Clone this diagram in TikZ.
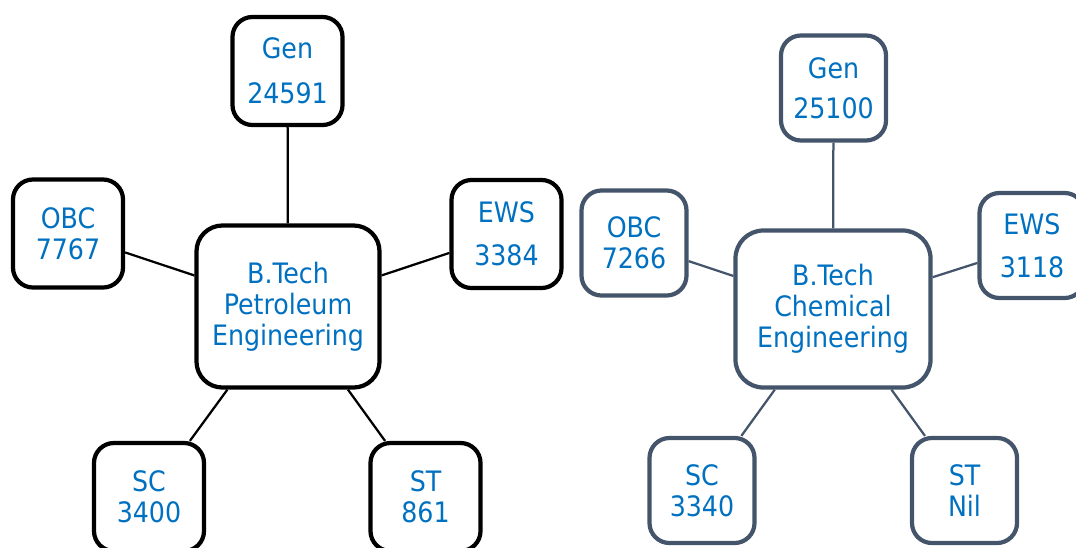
\documentclass[tikz,border=0pt]{standalone}
\usepackage{fontspec}
\setmainfont{DejaVu Sans Condensed}
\definecolor{quotablue}{HTML}{0070C0}
\definecolor{slate}{HTML}{44546A}

\begin{document}
\begin{tikzpicture}[x=0.025cm, y=-0.025cm,
		quota/.style={draw, line width=3pt, rounded corners=0.5cm, align=center, text=quotablue, inner sep=0pt, minimum width=2.75cm, minimum height=2.7cm, font=\fontsize{20}{22}\selectfont},
		branch/.style={quota, minimum width=4.575cm, minimum height=4.05cm, rounded corners=0.65cm},
		cquota/.style={quota, draw=slate, minimum width=2.625cm, minimum height=2.625cm},
		cbranch/.style={cquota, minimum width=4.875cm, minimum height=3.925cm, rounded corners=0.7cm},
		link/.style={line width=1.6pt},
		clink/.style={link, draw=slate}]
		\useasboundingbox (0, 0) rectangle (1076, 547);
		% petroleum
		\node[branch] (pcen) at (288, 306.5) {B.Tech\\Petroleum\\Engineering};
		\node[quota] (pgen) at (287.5, 71) {Gen\\[10pt]24591};
		\node[quota] (pobc) at (68, 233.5) {OBC\\7767};
		\node[quota] (pews) at (506.5, 234) {EWS\\[8.5pt]3384};
		\node[quota] (psc) at (149, 497) {SC\\3400};
		\node[quota] (pst) at (425.5, 497) {ST\\861};
		\draw[link] (pcen) -- (pgen); \draw[link] (pcen) -- (pobc); \draw[link] (pcen) -- (pews);
		\draw[link] (pcen) -- (psc); \draw[link] (pcen) -- (pst);
		% chemical
		\node[cbranch] (ccen) at (833, 309) {B.Tech\\Chemical\\Engineering};
		\node[cquota] (cgen) at (833.5, 88) {Gen\\[6.5pt]25100};
		\node[cquota] (cobc) at (634, 243) {OBC\\7266};
		\node[cquota] (cews) at (1032, 245.5) {EWS\\[8.5pt]3118};
		\node[cquota] (csc) at (702, 490.5) {SC\\3340};
		\node[cquota] (cst) at (964.5, 490.5) {ST\\Nil};
		\draw[clink] (ccen) -- (cgen); \draw[clink] (ccen) -- (cobc); \draw[clink] (ccen) -- (cews);
		\draw[clink] (ccen) -- (csc); \draw[clink] (ccen) -- (cst);
	\end{tikzpicture}
\end{document}
